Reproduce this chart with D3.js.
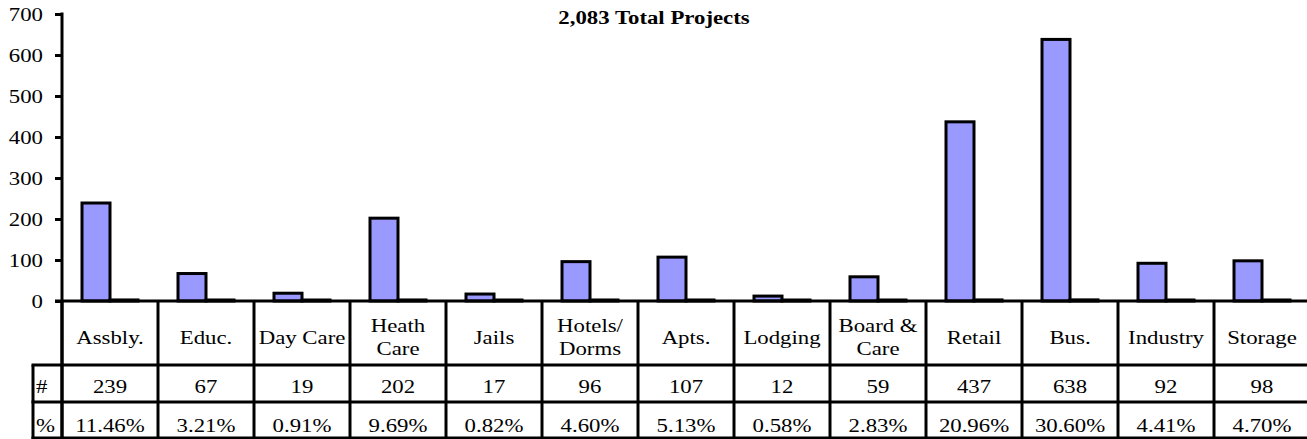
<!DOCTYPE html>
<html>
<head>
<meta charset="utf-8">
<script src="https://cdn.jsdelivr.net/npm/d3@7"></script>
<style>
  body { margin: 0; background: #fff; }
  text { font-family: "Liberation Serif", "Times New Roman", serif; font-size: 19px; fill: #000; }
</style>
</head>
<body>
<div id="chart"></div>
<script>
var categories = ["Assbly.", "Educ.", "Day Care", "Heath\nCare", "Jails", "Hotels/\nDorms", "Apts.", "Lodging", "Board &\nCare", "Retail", "Bus.", "Industry", "Storage"];
var counts = [239, 67, 19, 202, 17, 96, 107, 12, 59, 437, 638, 92, 98];
var percents = [11.46, 3.21, 0.91, 9.69, 0.82, 4.60, 5.13, 0.58, 2.83, 20.96, 30.60, 4.41, 4.70];
var yTicks = [0, 100, 200, 300, 400, 500, 600, 700];
var title = "2,083 Total Projects";

var W = 1307, H = 439;
var left = 62, colW = 96;
var rowLabelBottom = 365, rowCountBottom = 402, rowPctBottom = 439;
var stubLeft = 33;
var sx = 1.2; // text in the picture is stretched sideways

var svg = d3.select("#chart").append("svg")
  .attr("width", W)
  .attr("height", H);

var x0 = d3.scaleBand()
  .domain(d3.range(categories.length))
  .range([left, left + colW * categories.length])
  .padding(0);

var x1 = d3.scaleBand()
  .domain(["count", "pct"])
  .range([20, colW - 20])
  .padding(0);

var y = d3.scaleLinear()
  .domain([0, 700])
  .range([301, 14]);

//helper for stretched text
function addText(g, str, x, yy, anchor, bold) {
  return g.append("text")
    .attr("transform", "translate(" + x + "," + yy + ") scale(" + sx + ",1)")
    .attr("text-anchor", anchor)
    .style("font-weight", bold ? "bold" : null)
    .text(str);
}

//title
addText(svg, title, 654, 24, "middle", true);

//bars: counts and (fractional) percents
var groups = svg.selectAll(".cat")
  .data(categories.map(function(c, i) { return {i: i, count: counts[i], pct: percents[i] / 100}; }))
  .enter()
  .append("g")
  .attr("class", "cat")
  .attr("transform", function(d) { return "translate(" + x0(d.i) + ",0)"; });

groups.append("rect")
  .attr("x", x1("count"))
  .attr("y", function(d) { return y(d.count); })
  .attr("width", x1.bandwidth())
  .attr("height", function(d) { return y(0) - y(d.count); })
  .attr("fill", "#9999FF")
  .attr("stroke", "#000")
  .attr("stroke-width", 3);

groups.append("rect")
  .attr("x", x1("pct"))
  .attr("y", function(d) { return y(d.pct) - 1; })
  .attr("width", x1.bandwidth())
  .attr("height", function(d) { return y(0) - y(d.pct) + 1; })
  .attr("fill", "#CC99FF")
  .attr("stroke", "#000")
  .attr("stroke-width", 3);

//y axis
var yAxis = d3.axisLeft(y)
  .tickValues(yTicks)
  .tickSize(7)
  .tickFormat("");

var ya = svg.append("g")
  .attr("transform", "translate(" + left + ",0)")
  .call(yAxis);
ya.select(".domain").remove();
ya.selectAll("line").attr("stroke", "#000").attr("stroke-width", 3);

yTicks.forEach(function(t) {
  addText(svg, String(t), 43, y(t) + 7, "end", false);
});

//axis lines
var right = left + colW * categories.length;
svg.append("line")
  .attr("x1", left).attr("x2", left)
  .attr("y1", y(700) - 1.5).attr("y2", H)
  .attr("stroke", "#000").attr("stroke-width", 3);
svg.append("line")
  .attr("x1", left - 7).attr("x2", right)
  .attr("y1", y(0)).attr("y2", y(0))
  .attr("stroke", "#000").attr("stroke-width", 3);

//data table
var table = svg.append("g");
[rowLabelBottom, rowCountBottom, rowPctBottom - 1].forEach(function(yy) {
  table.append("line")
    .attr("x1", stubLeft - 1.5).attr("x2", right)
    .attr("y1", yy).attr("y2", yy)
    .attr("stroke", "#000").attr("stroke-width", 3);
});
table.append("line")
  .attr("x1", stubLeft).attr("x2", stubLeft)
  .attr("y1", rowLabelBottom).attr("y2", H)
  .attr("stroke", "#000").attr("stroke-width", 3);

d3.range(categories.length + 1).forEach(function(i) {
  var xx = left + i * colW;
  table.append("line")
    .attr("x1", xx).attr("x2", xx)
    .attr("y1", y(0)).attr("y2", H)
    .attr("stroke", "#000").attr("stroke-width", 3);
});

addText(table, "#", 36, 393, "start", false);
addText(table, "%", 36, 432, "start", false);

categories.forEach(function(c, i) {
  var cx = x0(i) + colW / 2;
  var lines = c.split("\n");
  if (lines.length === 1) {
    addText(table, lines[0], cx, 344, "middle", false);
  } else {
    addText(table, lines[0], cx, 332, "middle", false);
    addText(table, lines[1], cx, 355, "middle", false);
  }
  addText(table, String(counts[i]), cx, 393, "middle", false);
  addText(table, percents[i].toFixed(2) + "%", cx, 432, "middle", false);
});
</script>
</body>
</html>
